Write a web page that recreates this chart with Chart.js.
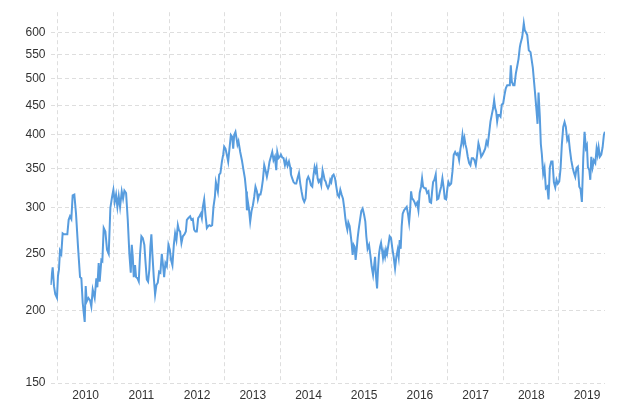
<!DOCTYPE html>
<html>
<head>
<meta charset="utf-8">
<script src="https://cdn.jsdelivr.net/npm/chart.js@4/dist/chart.umd.min.js"></script>
<style>
  html, body { margin: 0; padding: 0; background: #fff; }
  canvas { display: block; }
</style>
</head>
<body>
<canvas id="myChart" width="640" height="403"></canvas>
<script>
// weekly-ish closes (x = decimal year)
var years = [
  2009.874, 2009.910, 2009.934, 2009.957, 2009.987, 2010.005, 2010.023, 2010.041, 2010.065, 2010.089,
  2010.113, 2010.149, 2010.173, 2010.197, 2010.221, 2010.245, 2010.269, 2010.299, 2010.329, 2010.365,
  2010.401, 2010.425, 2010.449, 2010.485, 2010.503, 2010.521, 2010.551, 2010.581, 2010.604, 2010.629,
  2010.664, 2010.694, 2010.712, 2010.736, 2010.754, 2010.784, 2010.802, 2010.826, 2010.856, 2010.886,
  2010.916, 2010.946, 2010.976, 2011.000, 2011.024, 2011.048, 2011.072, 2011.096, 2011.120, 2011.150,
  2011.174, 2011.198, 2011.228, 2011.258, 2011.287, 2011.312, 2011.330, 2011.348, 2011.366, 2011.389,
  2011.407, 2011.431, 2011.456, 2011.479, 2011.503, 2011.528, 2011.556, 2011.574, 2011.600, 2011.623,
  2011.646, 2011.664, 2011.682, 2011.700, 2011.725, 2011.749, 2011.772, 2011.797, 2011.821, 2011.844,
  2011.869, 2011.893, 2011.911, 2011.934, 2011.959, 2011.988, 2012.013, 2012.036, 2012.060, 2012.085,
  2012.108, 2012.132, 2012.157, 2012.175, 2012.198, 2012.222, 2012.247, 2012.275, 2012.301, 2012.319,
  2012.347, 2012.378, 2012.401, 2012.426, 2012.450, 2012.473, 2012.498, 2012.522, 2012.545, 2012.570,
  2012.588, 2012.606, 2012.630, 2012.653, 2012.678, 2012.701, 2012.725, 2012.750, 2012.773, 2012.797,
  2012.822, 2012.840, 2012.858, 2012.876, 2012.899, 2012.922, 2012.948, 2012.971, 2012.989, 2013.012,
  2013.037, 2013.061, 2013.084, 2013.109, 2013.133, 2013.151, 2013.169, 2013.192, 2013.210, 2013.228,
  2013.246, 2013.277, 2013.307, 2013.336, 2013.361, 2013.384, 2013.397, 2013.415, 2013.433, 2013.456,
  2013.480, 2013.505, 2013.528, 2013.551, 2013.577, 2013.595, 2013.618, 2013.641, 2013.659, 2013.684,
  2013.708, 2013.731, 2013.756, 2013.780, 2013.803, 2013.828, 2013.852, 2013.875, 2013.900, 2013.924,
  2013.942, 2013.965, 2013.990, 2014.008, 2014.031, 2014.055, 2014.080, 2014.103, 2014.127, 2014.152,
  2014.175, 2014.188, 2014.211, 2014.234, 2014.260, 2014.283, 2014.306, 2014.332, 2014.355, 2014.378,
  2014.403, 2014.427, 2014.450, 2014.475, 2014.499, 2014.522, 2014.547, 2014.571, 2014.594, 2014.612,
  2014.630, 2014.648, 2014.666, 2014.684, 2014.709, 2014.732, 2014.756, 2014.774, 2014.792, 2014.810,
  2014.828, 2014.853, 2014.876, 2014.894, 2014.912, 2014.930, 2014.954, 2014.979, 2015.002, 2015.025,
  2015.051, 2015.074, 2015.097, 2015.122, 2015.146, 2015.164, 2015.182, 2015.200, 2015.218, 2015.241,
  2015.259, 2015.277, 2015.295, 2015.313, 2015.331, 2015.349, 2015.367, 2015.385, 2015.403, 2015.428,
  2015.451, 2015.475, 2015.500, 2015.523, 2015.541, 2015.564, 2015.590, 2015.613, 2015.636, 2015.662,
  2015.680, 2015.698, 2015.716, 2015.734, 2015.751, 2015.769, 2015.787, 2015.805, 2015.823, 2015.841,
  2015.859, 2015.877, 2015.895, 2015.913, 2015.937, 2015.960, 2015.985, 2016.009, 2016.032, 2016.057,
  2016.080, 2016.104, 2016.122, 2016.140, 2016.158, 2016.176, 2016.194, 2016.219, 2016.242, 2016.266,
  2016.291, 2016.309, 2016.327, 2016.345, 2016.363, 2016.381, 2016.404, 2016.427, 2016.453, 2016.476,
  2016.499, 2016.524, 2016.542, 2016.560, 2016.584, 2016.607, 2016.632, 2016.656, 2016.679, 2016.704,
  2016.722, 2016.740, 2016.763, 2016.787, 2016.812, 2016.835, 2016.859, 2016.884, 2016.907, 2016.931,
  2016.949, 2016.974, 2016.997, 2017.015, 2017.038, 2017.064, 2017.087, 2017.110, 2017.135, 2017.159,
  2017.182, 2017.207, 2017.231, 2017.249, 2017.267, 2017.285, 2017.303, 2017.321, 2017.339, 2017.362,
  2017.387, 2017.410, 2017.434, 2017.459, 2017.482, 2017.506, 2017.531, 2017.554, 2017.578, 2017.603,
  2017.626, 2017.649, 2017.675, 2017.698, 2017.721, 2017.746, 2017.770, 2017.793, 2017.818, 2017.836,
  2017.854, 2017.872, 2017.890, 2017.908, 2017.926, 2017.950, 2017.973, 2017.998, 2018.022, 2018.045,
  2018.070, 2018.093, 2018.117, 2018.135, 2018.153, 2018.178, 2018.201, 2018.225, 2018.250, 2018.273,
  2018.297, 2018.309, 2018.340, 2018.368, 2018.386, 2018.404, 2018.430, 2018.458, 2018.489, 2018.530,
  2018.566, 2018.597, 2018.615, 2018.633, 2018.656, 2018.674, 2018.692, 2018.717, 2018.740, 2018.764,
  2018.789, 2018.812, 2018.836, 2018.861, 2018.884, 2018.908, 2018.933, 2018.956, 2018.979, 2019.005,
  2019.028, 2019.051, 2019.076, 2019.100, 2019.123, 2019.148, 2019.172, 2019.195, 2019.220, 2019.244,
  2019.267, 2019.292, 2019.315, 2019.339, 2019.364, 2019.387, 2019.411, 2019.436, 2019.459, 2019.483,
  2019.501, 2019.519, 2019.544, 2019.562, 2019.580, 2019.603, 2019.626, 2019.652, 2019.675, 2019.693,
  2019.711, 2019.734, 2019.759, 2019.783, 2019.806, 2019.824
];
var prices = [
  221, 237, 220, 213, 210, 229, 235, 253, 250, 271,
  270, 270, 270, 286, 290, 287, 315, 316, 293, 257,
  228, 227, 206, 191, 220, 207, 210, 208, 203, 217,
  210, 227, 219, 241, 224, 244, 243, 277, 273, 254,
  250, 300, 313, 322, 307, 316, 301, 314, 301, 320,
  311, 321, 318, 286, 250, 232, 259, 247, 228, 239,
  228, 227, 224, 250, 268, 266, 259, 244, 226, 224,
  235, 257, 270, 250, 228, 213, 221, 223, 233, 232,
  250, 238, 228, 241, 238, 259, 254, 244, 239, 259,
  271, 264, 280, 275, 273, 261, 268, 270, 273, 286,
  288, 290, 286, 287, 275, 273, 273, 288, 290, 293,
  288, 301, 310, 292, 277, 279, 280, 279, 280, 301,
  313, 332, 326, 320, 342, 344, 360, 370, 382, 379,
  370, 360, 379, 400, 397, 379, 400, 405, 395, 385,
  390, 374, 362, 348, 337, 320, 297, 307, 299, 284,
  296, 303, 313, 326, 320, 310, 316, 316, 322, 335,
  355, 348, 339, 348, 360, 367, 374, 362, 367, 348,
  374, 365, 367, 370, 366, 365, 355, 362, 354, 360,
  352, 342, 337, 332, 330, 330, 337, 344, 330, 320,
  311, 307, 311, 335, 339, 335, 328, 326, 342, 352,
  346, 352, 337, 332, 335, 328, 348, 342, 335, 333,
  328, 324, 328, 335, 332, 340, 342, 337, 326, 316,
  313, 322, 316, 311, 299, 288, 280, 275, 283, 279,
  270, 261, 249, 259, 257, 244, 254, 266, 275, 286,
  296, 299, 292, 284, 268, 255, 259, 249, 238, 230,
  238, 247, 228, 218, 235, 250, 257, 261, 254, 246,
  252, 247, 254, 250, 259, 268, 266, 255, 247, 236,
  247, 254, 247, 264, 255, 279, 293, 297, 299, 301,
  292, 283, 297, 320, 311, 310, 307, 303, 306, 297,
  318, 326, 337, 326, 324, 324, 318, 320, 307, 306,
  320, 332, 335, 342, 310, 311, 319, 326, 337, 324,
  311, 310, 324, 332, 328, 330, 346, 370, 374, 370,
  372, 362, 379, 387, 400, 387, 395, 385, 379, 367,
  358, 355, 365, 365, 362, 355, 370, 387, 379, 367,
  370, 374, 379, 390, 385, 403, 422, 433, 445, 459,
  445, 439, 422, 433, 433, 430, 451, 453, 469, 481,
  487, 487, 487, 527, 494, 487, 487, 510, 525, 540,
  566, 574, 589, 622, 605, 601, 594, 559, 555, 522,
  477, 440, 418, 473, 430, 386, 371, 343, 351, 324,
  326, 310, 352, 360, 360, 332, 325, 335, 330, 333,
  350, 385, 413, 421, 413, 392, 397, 378, 362, 352,
  345, 339, 351, 353, 326, 323, 307, 365, 405, 380,
  384, 352, 348, 335, 367, 352, 362, 358, 379, 370,
  381, 367, 370, 381, 400, 405
];
var yearTicks = [2010, 2011, 2012, 2013, 2014, 2015, 2016, 2017, 2018, 2019];
var priceTicks = [150, 200, 250, 300, 350, 400, 450, 500, 550, 600];

var points = years.map(function (yr, i) { return { x: yr, y: prices[i] }; });

var CHART = document.getElementById('myChart');
Chart.defaults.font.family = "'Liberation Sans', Arial, sans-serif";
Chart.defaults.font.size = 12;
Chart.defaults.color = '#333';

var gridStyle = { color: '#dedede', lineWidth: 1, drawTicks: false };
// v4: border.dash is what dashes the grid lines
var borderStyle = { display: false, dash: [4, 3] };

var myChart = new Chart(CHART, {
    type: 'line',
    data: {
        datasets: [{
            data: points,
            borderColor: '#579cde',
            borderWidth: 2,
            pointRadius: 0,
            fill: false,
            tension: 0
        }]
    },
    options: {
        responsive: false,
        animation: false,
        devicePixelRatio: 1,
        layout: { padding: { top: 12, right: 35, left: 0, bottom: 0 } },
        plugins: {
            legend: { display: false },
            tooltip: { enabled: false }
        },
        scales: {
            x: {
                type: 'linear',
                min: 2009.871,
                max: 2019.826,
                grid: gridStyle,
                border: borderStyle,
                afterBuildTicks: function (scale) {
                    scale.ticks = yearTicks.map(function (v) { return { value: v }; });
                },
                afterFit: function (scale) { scale.height = 20; },
                ticks: {
                    padding: 5,
                    labelOffset: 28, // year label sits mid-year, between grid lines
                    maxRotation: 0,
                    autoSkip: false,
                    callback: function (v) { return String(v); }
                }
            },
            y: {
                type: 'logarithmic',
                min: 150,
                max: 650,
                grid: gridStyle,
                border: borderStyle,
                afterBuildTicks: function (scale) {
                    scale.ticks = priceTicks.map(function (v) { return { value: v }; });
                },
                afterFit: function (scale) { scale.width = 50.5; },
                ticks: {
                    padding: 5,
                    callback: function (v) { return String(v); }
                }
            }
        }
    }
});
</script>
</body>
</html>
